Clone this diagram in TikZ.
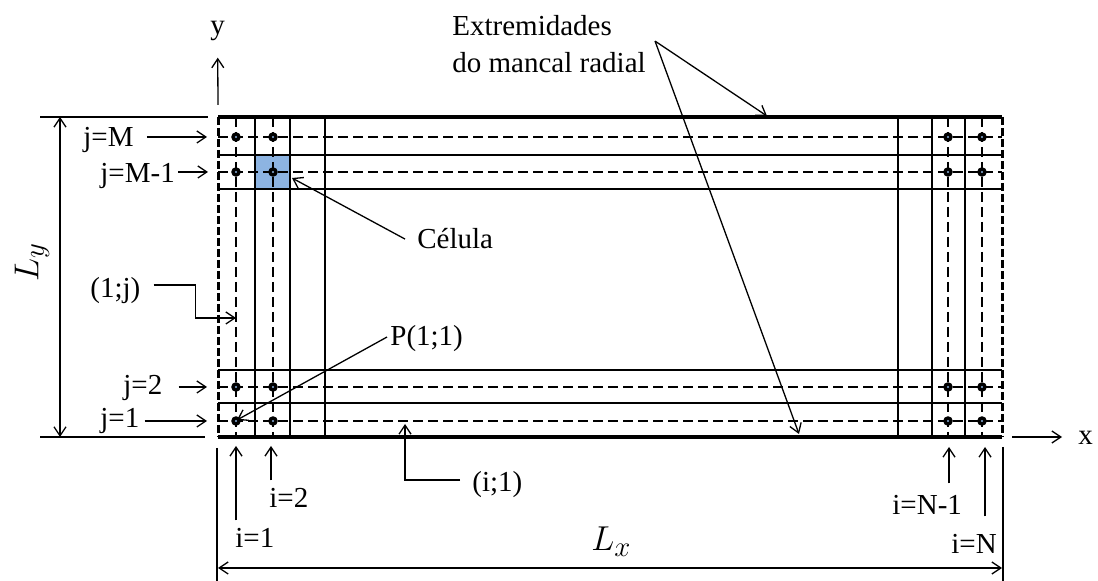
\documentclass[tikz,border=0pt]{standalone}
\usepackage{fontspec}
\setmainfont{Liberation Serif}
\usepackage{xcolor}
\definecolor{CellBlue}{HTML}{8DB4E2}
\usetikzlibrary{arrows.meta}

\begin{document}
\begin{tikzpicture}[
    x=0.5pt, y=-0.5pt,
    lbl/.style={font=\fontsize{14.5}{17}\selectfont, inner sep=0pt, anchor=base west},
    gridline/.style={line width=1pt},
    midline/.style={line width=0.75pt, dash pattern=on 5pt off 2.5pt},
    bound/.style={line width=1.5pt, dash pattern=on 4pt off 1.5pt},
    edge/.style={line width=2.2pt},
    ptr/.style={line width=0.65pt, -{Straight Barb[length=4.5pt,width=6pt]}},
    dim/.style={line width=0.65pt, {Straight Barb[length=4.5pt,width=6pt]}-{Straight Barb[length=4.5pt,width=6pt]}},
]
\useasboundingbox (0,0) rectangle (1098,581);

% Domain edges (pixel grid, y downwards)
\def\xL{218}
\def\xR{1002}
\def\yT{117}
\def\yB{437}

% Highlighted cell
\fill[CellBlue] (255,155) rectangle (290,189);

% Cell faces
\draw[gridline] (255,\yT) -- (255,\yB) (290,\yT) -- (290,\yB) (325,\yT) -- (325,\yB)
                (898,\yT) -- (898,\yB) (932,\yT) -- (932,\yB) (965,\yT) -- (965,\yB);
\draw[gridline] (\xL,155) -- (\xR,155) (\xL,189) -- (\xR,189)
                (\xL,370) -- (\xR,370) (\xL,403) -- (\xR,403);

% Lines through the nodes
\draw[midline] (\xL,137) -- (\xR,137) (\xL,172) -- (\xR,172)
               (\xL,387) -- (\xR,387) (\xL,421) -- (\xR,421);
\draw[midline] (236,\yT) -- (236,\yB) (273,\yT) -- (273,\yB)
               (948,\yT) -- (948,\yB) (982,\yT) -- (982,\yB);

% Ends of the bearing and side boundaries
\draw[edge] (\xL,\yT) -- (\xR,\yT);
\draw[edge] (\xL,\yB) -- (\xR,\yB);
\draw[bound] (\xL,\yT) -- (\xL,\yB);
\draw[bound] (\xR,\yT) -- (\xR,\yB);

% Nodes
\fill[black] (236,137) circle (2.4pt) (273,137) circle (2.4pt) (236,172) circle (2.4pt) (273,172) circle (2.4pt)
             (236,387) circle (2.4pt) (273,387) circle (2.4pt) (236,421) circle (2.4pt) (273,421) circle (2.4pt)
             (948,137) circle (2.4pt) (982,137) circle (2.4pt) (948,172) circle (2.4pt) (982,172) circle (2.4pt)
             (948,387) circle (2.4pt) (982,387) circle (2.4pt) (948,421) circle (2.4pt) (982,421) circle (2.4pt);
\fill[CellBlue] (236,137) circle (0.6pt) (273,137) circle (0.6pt) (236,172) circle (0.6pt) (273,172) circle (0.6pt)
                (236,387) circle (0.6pt) (273,387) circle (0.6pt) (236,421) circle (0.6pt) (273,421) circle (0.6pt)
                (948,137) circle (0.6pt) (982,137) circle (0.6pt) (948,172) circle (0.6pt) (982,172) circle (0.6pt)
                (948,387) circle (0.6pt) (982,387) circle (0.6pt) (948,421) circle (0.6pt) (982,421) circle (0.6pt);

% Axes
\node[lbl] (ylab) at (210,35) {y};
\node[lbl] (xlab) at (1078,445) {x};
\coordinate (ybase) at (\xL,105);
\coordinate (xbase) at (1012,\yB);
\draw[ptr, shorten >=8pt] (ybase) -- (ylab.south);
\draw[ptr, shorten >=8pt] (xbase) -- (xbase -| xlab.west);

% Dimensions
\draw[line width=0.65pt] (40,\yT) -- (208,\yT) (40,\yB) -- (205,\yB);
\draw[line width=0.65pt] (217,448) -- (217,581) (1003,447) -- (1003,581);
\coordinate (lyA) at (60,\yT);
\coordinate (lyB) at (60,\yB);
\coordinate (lxA) at (\xL,568);
\coordinate (lxB) at (\xR,568);
\draw[dim] (lyA) -- (lyB);
\draw[dim] (lxA) -- (lxB);
\node[font=\fontsize{19}{22}\selectfont, rotate=90, inner sep=0pt] (ly) at (32,262) {$L_y$};
\node[lbl, font=\fontsize{19}{22}\selectfont] (lx) at (591,551) {$L_x$};

% Row labels
\node[lbl] (jM) at (83,147) {j=M};
\node[lbl] (jM1) at (100,183) {j=M-1};
\node[lbl] (j2) at (123,395) {j=2};
\node[lbl] (j1) at (100,428) {j=1};
\coordinate (jMt) at (207,137);
\coordinate (jM1t) at (208,172);
\coordinate (j2t) at (207,387);
\coordinate (j1t) at (207,421);
\draw[ptr, shorten <=6.5pt] (jMt -| jM.east) -- (jMt);
\draw[ptr, shorten <=1.5pt] (jM1t -| jM1.east) -- (jM1t);
\draw[ptr, shorten <=8pt] (j2t -| j2.east) -- (j2t);
\draw[ptr, shorten <=2.5pt] (j1t -| j1.east) -- (j1t);

% Column labels
\node[lbl] (i1) at (235,548) {i=1};
\node[lbl] (i2) at (269,508) {i=2};
\node[lbl] (iN1) at (892,515) {i=N-1};
\node[lbl] (iN) at (951,554) {i=N};
\coordinate (i1t) at (236,446);
\coordinate (i2t) at (271,446);
\coordinate (iN1t) at (949,447);
\coordinate (iNt) at (985,447);
\draw[ptr, shorten <=4pt] (i1t |- i1.north) -- (i1t);
\draw[ptr, shorten <=4pt] (i2t |- i2.north) -- (i2t);
\draw[ptr, shorten <=6pt] (iN1t |- iN1.north) -- (iN1t);
\draw[ptr, shorten <=9pt] (iNt |- iN.north) -- (iNt);

% Boundary node lines
\node[lbl] (b1j) at (90,298) {(1;j)};
\node[lbl] (bi1) at (472,492) {(i;1)};
\coordinate (b1jt) at (236,318);
\coordinate (bi1t) at (405,424);
\draw[ptr] ([shift={(13,-6)}]b1j.east) -- ++(42,0) |- (b1jt);
\draw[ptr] ([shift={(-12,-5)}]bi1.west) -| (bi1t);

% Cell and first node
\node[lbl] (cel) at (417,249) {Célula};
\node[lbl] (p11) at (390,346) {P(1;1)};
\coordinate (celt) at (292,178);
\coordinate (p11t) at (237,420);
\draw[ptr] ([xshift=-6pt]cel.west) -- (celt);
\draw[ptr] ([shift={(-3,-2)}]p11.west) -- (p11t);

% Bearing ends
\node[lbl, font=\fontsize{14.5}{18.5}\selectfont, align=left, anchor=north west] (ext) at (452,15)
    {Extremidades\\do mancal radial};
\coordinate (extTop) at (767,116);
\coordinate (extBot) at (799,434);
\draw[ptr] ([shift={(9,-3)}]ext.east) -- (extTop);
\draw[ptr] ([shift={(9,-3)}]ext.east) -- (extBot);

\end{tikzpicture}
\end{document}
